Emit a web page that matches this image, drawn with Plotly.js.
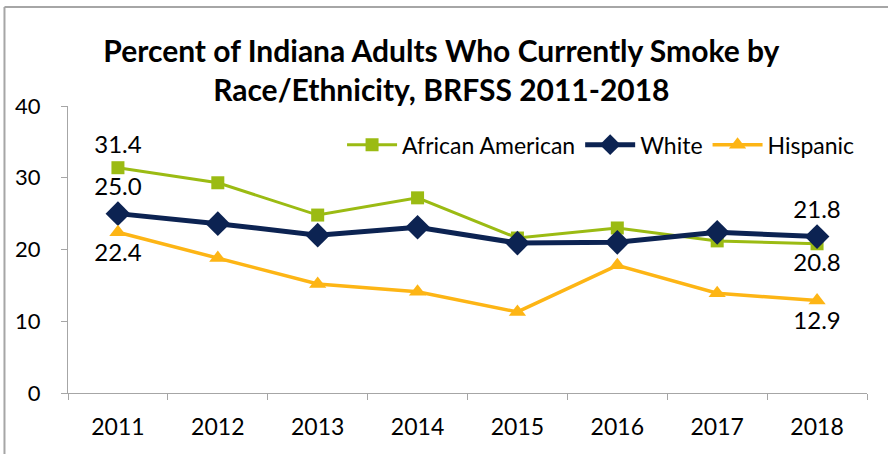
<!DOCTYPE html>
<html><head><meta charset="utf-8">
<script src="https://cdn.plot.ly/plotly-3.0.1.min.js"></script>
<style>body{margin:0;padding:0;background:#fff}#chart{width:888px;height:454px}</style>
</head><body><div id="chart"></div>
<script>
const years = ['2011','2012','2013','2014','2015','2016','2017','2018'];
const africanAmerican = [31.4, 29.3, 24.8, 27.2, 21.6, 23.0, 21.2, 20.8];
const white = [25.0, 23.6, 22.0, 23.1, 20.9, 21.0, 22.4, 21.8];
const hispanic = [22.4, 18.8, 15.2, 14.1, 11.3, 17.8, 13.9, 12.9];
const yTicks = [0, 10, 20, 30, 40];

function labels(arr, show) {
  return arr.map((v, i) => show.includes(i) ? v.toFixed(1) : '');
}
const font = 'Lato, "Open Sans", sans-serif';
const traces = [
  {x: years, y: africanAmerican, name: 'African American', type: 'scatter', mode: 'lines+markers+text',
   line: {color: '#9BBB13', width: 3}, marker: {symbol: 'square', size: 13, color: '#9BBB13'},
   text: labels(africanAmerican, [0, 7]), textposition: ['top center','top center','top center','top center','top center','top center','top center','bottom center'],
   textfont: {size: 24, color: '#000', family: font}, cliponaxis: false},
  {x: years, y: white, name: 'White', type: 'scatter', mode: 'lines+markers+text',
   line: {color: '#0C2352', width: 5}, marker: {symbol: 'diamond', size: 19, color: '#0C2352'},
   text: labels(white, [0, 7]), textposition: 'top center',
   textfont: {size: 24, color: '#000', family: font}, cliponaxis: false},
  {x: years, y: hispanic, name: 'Hispanic', type: 'scatter', mode: 'lines+markers+text',
   line: {color: '#FDB515', width: 3.5}, marker: {symbol: 'triangle-up', size: 15, color: '#FDB515'},
   text: labels(hispanic, [0, 7]), textposition: 'bottom center',
   textfont: {size: 24, color: '#000', family: font}, cliponaxis: false}
];
const layout = {
  width: 888, height: 454,
  margin: {l: 68, r: 21, t: 106, b: 61},
  paper_bgcolor: '#fff', plot_bgcolor: '#fff',
  font: {family: font, color: '#000'},
  title: {text: '<b>Percent of Indiana Adults Who Currently Smoke by<br>Race/Ethnicity, BRFSS 2011-2018</b>',
          font: {size: 30, family: font, color: '#000'}, x: 0.497, xanchor: 'center', y: 0.863, yanchor: 'middle'},
  showlegend: true,
  legend: {orientation: 'h', x: 0.343, xanchor: 'left', y: 0.865, yanchor: 'middle',
           font: {size: 23, family: font, color: '#000'}, bgcolor: 'rgba(0,0,0,0)', itemwidth: 50, traceorder: 'normal'},
  xaxis: {type: 'category', range: [-0.5, 7.5], showgrid: false, zeroline: false,
          showline: true, linecolor: '#a6a6a6', linewidth: 1.3, ticks: 'outside', tickson: 'boundaries',
          ticklen: 6, tickcolor: '#a6a6a6', tickfont: {size: 23, family: font, color: '#000'}, ticklabelstandoff: 13},
  yaxis: {range: [0, 40], tickvals: yTicks, showgrid: false, zeroline: false,
          showline: true, linecolor: '#a6a6a6', linewidth: 1.3, ticks: 'outside', ticklen: 6, tickcolor: '#a6a6a6',
          tickfont: {size: 22, family: font, color: '#000'}, ticklabelstandoff: 16},
  shapes: [
    {type: 'line', xref: 'paper', yref: 'paper', x0: -0.0795, x1: 1.03, y0: 1.345, y1: 1.345,
     line: {color: '#a6a6a6', width: 2}},
    {type: 'line', xref: 'paper', yref: 'paper', x0: -0.0795, x1: -0.0795, y0: 1.345, y1: -0.22,
     line: {color: '#a6a6a6', width: 2}}
  ]
};
Plotly.newPlot('chart', traces, layout, {displayModeBar: false});
</script></body></html>
